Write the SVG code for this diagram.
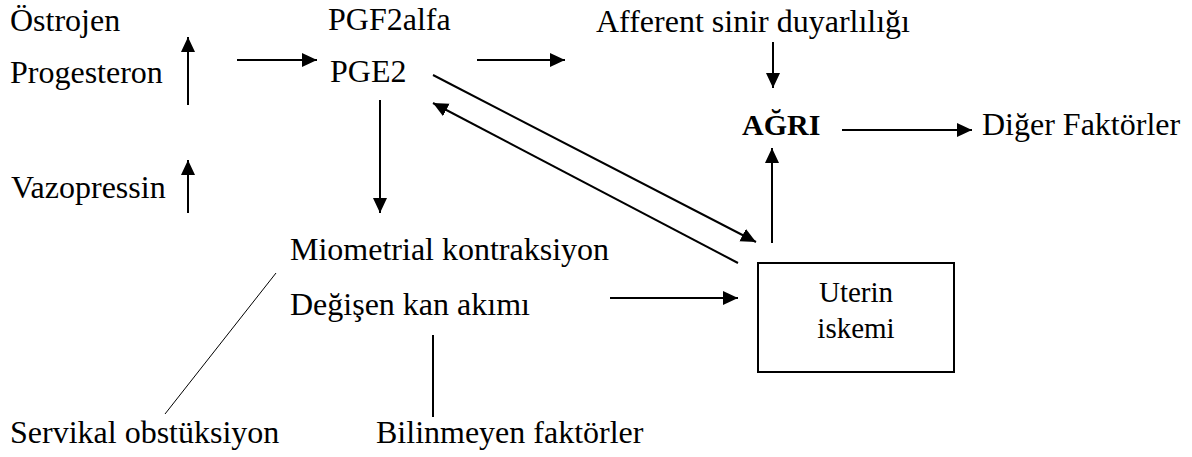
<svg xmlns="http://www.w3.org/2000/svg" width="1192" height="457" viewBox="0 0 1192 457">
<style>
text{font-family:"Liberation Serif","Times New Roman",serif;font-size:32px;fill:#000}
.b{font-weight:bold;font-size:30px}
.m{text-anchor:middle;font-size:29px}
.c{stroke:#000;stroke-width:2;fill:none}
.t{stroke:#000;stroke-width:1;fill:none}
</style>
<defs>
<marker id="ah" markerUnits="userSpaceOnUse" markerWidth="15" markerHeight="15" refX="15" refY="7" orient="auto">
<path d="M0,0 L15,7 L0,14 z" fill="#000"/>
</marker>
</defs>
<rect width="1192" height="457" fill="#fff"/>
<g id="ostrojen"><text x="10" y="31">Östrojen</text></g>
<g id="progesteron"><text x="10" y="83">Progesteron</text></g>
<g id="vazopressin"><text x="11" y="198">Vazopressin</text></g>
<g id="pgf2alfa"><text x="328" y="30">PGF2alfa</text></g>
<g id="pge2"><text x="330" y="82">PGE2</text></g>
<g id="afferent"><text x="596" y="32">Afferent sinir duyarlılığı</text></g>
<g id="agri"><text class="b" x="742" y="135">AĞRI</text></g>
<g id="diger"><text x="982" y="135">Diğer Faktörler</text></g>
<g id="miometrial"><text x="290" y="260">Miometrial kontraksiyon</text></g>
<g id="degisen"><text x="290" y="315">Değişen kan akımı</text></g>
<g id="uterin">
<rect class="c" x="758" y="263" width="196" height="109"/>
<text class="m" x="856" y="302">Uterin</text>
<text class="m" x="856" y="338">iskemi</text>
</g>
<g id="servikal"><text x="10" y="443">Servikal obstüksiyon</text></g>
<g id="bilinmeyen"><text x="376" y="443">Bilinmeyen faktörler</text></g>
<g id="connectors">
<line class="c" x1="188" y1="105" x2="188" y2="37" marker-end="url(#ah)"/>
<line class="c" x1="188" y1="213" x2="188" y2="160" marker-end="url(#ah)"/>
<line class="c" x1="237" y1="60" x2="317" y2="60" marker-end="url(#ah)"/>
<line class="c" x1="477" y1="60" x2="565" y2="60" marker-end="url(#ah)"/>
<line class="c" x1="380" y1="100" x2="380" y2="213" marker-end="url(#ah)"/>
<line class="c" x1="433" y1="75" x2="756" y2="242" marker-end="url(#ah)"/>
<line class="c" x1="738" y1="263" x2="433" y2="103" marker-end="url(#ah)"/>
<line class="c" x1="773" y1="42" x2="773" y2="88" marker-end="url(#ah)"/>
<line class="c" x1="842" y1="130" x2="972" y2="130" marker-end="url(#ah)"/>
<line class="c" x1="772" y1="243" x2="772" y2="148" marker-end="url(#ah)"/>
<line class="c" x1="610" y1="298" x2="738" y2="298" marker-end="url(#ah)"/>
<line class="c" x1="433" y1="335" x2="433" y2="417"/>
<line class="t" x1="276" y1="273" x2="165" y2="414"/>
</g>
</svg>
